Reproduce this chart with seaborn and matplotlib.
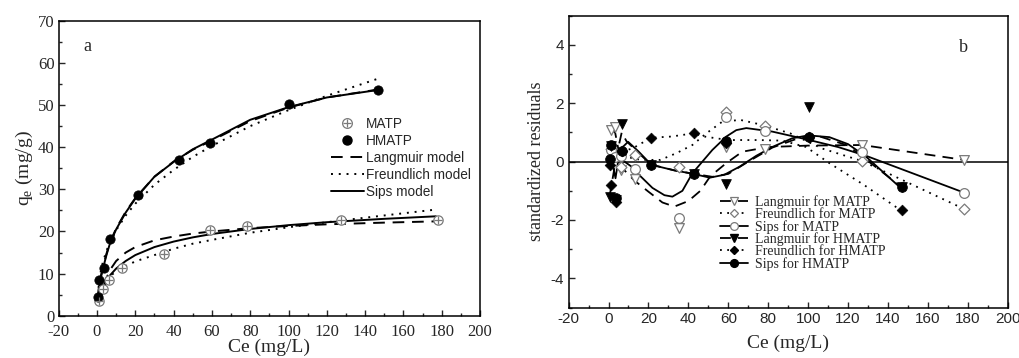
import matplotlib
matplotlib.use("Agg")
import matplotlib.pyplot as plt
from matplotlib.lines import Line2D
from matplotlib.ticker import MultipleLocator
import seaborn as sns

sns.set_style("ticks")
plt.rcParams["font.family"] = ["Liberation Serif", "DejaVu Serif"]
plt.rcParams["axes.unicode_minus"] = False

# ---- panel a: isotherm points ----
ce_matp = [1.0, 3.3, 6.3, 13.2, 35.2, 58.8, 78.4, 127.2, 178.0]
qe_matp = [3.4, 6.3, 8.6, 11.4, 14.6, 20.3, 21.4, 22.7, 22.7]
ce_hmatp = [0.5, 1.2, 3.7, 6.6, 21.3, 42.9, 58.8, 100.2, 146.9]
qe_hmatp = [4.4, 8.5, 11.4, 18.1, 28.6, 37.0, 41.1, 50.2, 53.5]

# model curves
fit_ce_matp = [1.5, 2, 3, 5, 7, 10, 15, 20, 30, 40, 50, 60, 80, 100, 120, 150, 177]
langmuir_matp = [2.6, 4.2, 6.2, 9.0, 11.0, 13.0, 15.0, 16.3, 17.9, 18.8, 19.5, 20.0, 20.8, 21.3, 21.7, 22.1, 22.4]
freundlich_matp = [3.2, 4.6, 6.4, 8.4, 9.5, 10.5, 11.8, 12.9, 14.4, 15.9, 17.1, 18.0, 19.7, 21.0, 22.2, 23.8, 25.2]
sips_matp = [2.8, 4.3, 6.2, 8.3, 9.7, 11.2, 13.0, 14.4, 16.3, 17.6, 18.6, 19.4, 20.6, 21.5, 22.2, 23.0, 23.6]

fit_ce_hmatp = [0.5, 1, 2, 3, 5, 7, 10, 15, 20, 30, 40, 50, 60, 80, 100, 120, 147]
langmuir_hmatp = [4.3, 6.8, 9.4, 11.4, 14.8, 17.7, 20.7, 24.7, 27.9, 33.0, 36.6, 39.4, 41.6, 46.2, 49.4, 51.8, 53.7]
freundlich_hmatp = [4.8, 7.6, 10.6, 12.6, 15.5, 17.5, 20.3, 23.8, 26.6, 31.1, 34.6, 37.7, 40.3, 45.0, 48.8, 52.2, 56.3]
sips_hmatp = [4.0, 6.5, 9.0, 11.0, 14.5, 17.5, 20.5, 24.5, 27.8, 33.0, 36.5, 39.5, 41.8, 46.5, 49.5, 51.8, 53.6]

# ---- panel b: standardized residuals ----
res_ce_matp = [1.0, 3.3, 6.3, 13.2, 35.2, 58.8, 78.4, 127.2, 178.0]
res_lang_matp = [1.1, 1.2, -0.3, -0.6, -2.28, 0.51, 0.45, 0.57, 0.06]
res_freu_matp = [0.45, 0.2, -0.2, 0.23, -0.19, 1.71, 1.22, 0.02, -1.62]
res_sips_matp = [0.4, 0.15, 0.2, -0.26, -1.94, 1.54, 1.06, 0.34, -1.06]

res_ce_hmatp = [0.5, 1.2, 3.7, 6.6, 21.3, 42.9, 58.8, 100.2, 146.9]
res_lang_hmatp = [-1.2, 0.55, -1.3, 1.3, -0.1, -0.42, -0.76, 1.86, -0.88]
res_freu_hmatp = [-0.1, -0.8, -1.4, 0.35, 0.82, 0.97, 0.65, 0.84, -1.65]
res_sips_hmatp = [0.1, 0.57, -1.25, 0.38, -0.11, -0.42, 0.72, 0.84, -0.88]

# smoothed connecting curves (as drawn in the figure)
sm_lang_matp_x = [1, 3.3, 5, 8, 13, 20, 27, 33, 40, 46, 51, 59, 67, 80, 100, 127, 178]
sm_lang_matp_y = [1.1, 1.0, 0.4, -0.3, -0.65, -1.03, -1.4, -1.54, -1.35, -1.0, -0.5, -0.05, 0.34, 0.5, 0.55, 0.57, 0.06]
sm_freu_matp_x = [1, 5, 10, 16, 26, 34, 42, 49, 57, 66, 77, 91, 107, 127, 178]
sm_freu_matp_y = [0.45, 0.3, 0.15, 0.06, 0.06, 0.29, 0.57, 0.97, 1.37, 1.43, 1.26, 0.97, 0.45, 0.02, -1.62]
sm_sips_matp_x = [1, 4, 8, 11.5, 16, 22, 28, 32, 37, 42, 47, 52, 59, 64, 69, 82, 100, 115, 129, 178]
sm_sips_matp_y = [0.4, 0.2, 0.0, -0.17, -0.5, -0.9, -1.15, -1.2, -1.0, -0.4, 0.0, 0.4, 0.86, 1.08, 1.15, 1.03, 0.75, 0.5, 0.2, -1.06]
sm_lang_hmatp_x = [0.5, 2, 4, 6.6, 9, 15, 21.3, 33, 42.9, 52, 60, 70, 82, 95, 105, 120, 147]
sm_lang_hmatp_y = [-1.2, -0.6, 0.2, 1.0, 0.7, 0.3, -0.1, -0.3, -0.42, -0.52, -0.42, 0.0, 0.48, 0.8, 0.88, 0.55, -0.88]
sm_freu_hmatp_x = [6.6, 12, 16.5, 21.5, 31.5, 42.6, 48, 60, 75, 87, 99, 110.6, 128, 146]
sm_freu_hmatp_y = [0.35, 0.45, 0.63, 0.82, 0.86, 0.97, 0.86, 0.74, 0.74, 0.72, 0.5, -0.05, -0.8, -1.65]
sm_sips_hmatp_x = [0, 1.5, 3.5, 5, 6.5, 9.8, 15, 21.5, 33, 42.6, 50.7, 58, 65.7, 74, 82.3, 92, 100, 110.6, 120, 129, 146]
sm_sips_hmatp_y = [0.57, 0.1, -0.57, 0.1, 0.46, 0.68, 0.35, -0.11, -0.3, -0.42, -0.55, -0.45, -0.17, 0.2, 0.51, 0.8, 0.9, 0.84, 0.6, 0.17, -0.88]

DASH = (0, (6, 4))
DOT = (0, (1, 3))
GREY = "#7a7a7a"

fig = plt.figure(figsize=(10.19, 3.58), dpi=100)
ax1 = fig.add_axes([0.0576, 0.118, 0.4135, 0.824])
ax2 = fig.add_axes([0.558, 0.141, 0.431, 0.815])


def curve(ax, x, y, ls, lw=1.3):
    sns.lineplot(x=x, y=y, ax=ax, color="black", linestyle=ls, lw=lw,
                 sort=False, estimator=None)


# panel a
for xs, ys, ls in [(fit_ce_matp, langmuir_matp, DASH), (fit_ce_matp, freundlich_matp, DOT),
                   (fit_ce_matp, sips_matp, "-"), (fit_ce_hmatp, langmuir_hmatp, DASH),
                   (fit_ce_hmatp, freundlich_hmatp, DOT), (fit_ce_hmatp, sips_hmatp, "-")]:
    curve(ax1, xs, ys, ls, lw=1.4)
sns.scatterplot(x=ce_matp, y=qe_matp, ax=ax1, marker="o", s=45, facecolor="white",
                edgecolor=GREY, linewidth=0.9, zorder=3)
sns.scatterplot(x=ce_matp, y=qe_matp, ax=ax1, marker="+", s=30, color=GREY,
                linewidth=0.9, zorder=4)
sns.scatterplot(x=ce_hmatp, y=qe_hmatp, ax=ax1, marker="o", s=45, color="black",
                edgecolor="black", zorder=3)

ax1.set_xlim(-20, 200)
ax1.set_ylim(0, 70)
ax1.xaxis.set_major_locator(MultipleLocator(20))
ax1.xaxis.set_minor_locator(MultipleLocator(10))
ax1.yaxis.set_major_locator(MultipleLocator(10))
ax1.yaxis.set_minor_locator(MultipleLocator(5))
ax1.set_xlabel("Ce (mg/L)", fontsize=14, labelpad=-1)
ax1.set_ylabel("q$_\\mathregular{e}$ (mg/g)", fontsize=14, labelpad=2)
ax1.text(-5, 64, "a", fontsize=13, ha="center", va="center")

h_matp = (Line2D([], [], ls="none", marker="o", ms=7, mfc="white", mec=GREY, mew=0.9),
          Line2D([], [], ls="none", marker="+", ms=5.5, color=GREY, mew=0.9))
h_hmatp = Line2D([], [], ls="none", marker="o", ms=6.5, color="black")
h_l = Line2D([], [], color="black", ls=DASH, lw=1.4)
h_f = Line2D([], [], color="black", ls=DOT, lw=1.4)
h_s = Line2D([], [], color="black", ls="-", lw=1.4)
ax1.legend([h_matp, h_hmatp, h_l, h_f, h_s],
           ["MATP", "HMATP", "Langmuir model", "Freundlich model", "Sips model"],
           loc="upper left", bbox_to_anchor=(0.646, 0.675), frameon=False,
           prop={"family": "Liberation Sans", "size": 9.8}, handlelength=2.4,
           handletextpad=0.15, labelspacing=0.22, borderpad=0, borderaxespad=0)

# panel b
ax2.axhline(0, color="black", lw=1.1, zorder=1)
specs = [
    (sm_lang_matp_x, sm_lang_matp_y, res_ce_matp, res_lang_matp, DASH, "v", False, 7),
    (sm_freu_matp_x, sm_freu_matp_y, res_ce_matp, res_freu_matp, DOT, "D", False, 5.5),
    (sm_sips_matp_x, sm_sips_matp_y, res_ce_matp, res_sips_matp, "-", "o", False, 7),
    (sm_lang_hmatp_x, sm_lang_hmatp_y, res_ce_hmatp, res_lang_hmatp, DASH, "v", True, 7),
    (sm_freu_hmatp_x, sm_freu_hmatp_y, res_ce_hmatp, res_freu_hmatp, DOT, "D", True, 5.5),
    (sm_sips_hmatp_x, sm_sips_hmatp_y, res_ce_hmatp, res_sips_hmatp, "-", "o", True, 7),
]
labels_b = ["Langmuir for MATP", "Freundlich for MATP", "Sips for MATP",
            "Langmuir for HMATP", "Freundlich for HMATP", "Sips for HMATP"]
handles_b = []
for sx, sy, px, py, ls, mk, filled, ms in specs:
    curve(ax2, sx, sy, ls, lw=1.3)
    if filled:
        sns.scatterplot(x=px, y=py, ax=ax2, marker=mk, s=ms ** 2, color="black",
                        edgecolor="black", zorder=3)
        handles_b.append(Line2D([], [], color="black", ls=ls, lw=1.3, marker=mk,
                                ms=ms * 0.8, mfc="black", mec="black"))
    else:
        sns.scatterplot(x=px, y=py, ax=ax2, marker=mk, s=ms ** 2, facecolor="white",
                        edgecolor=GREY, linewidth=0.9, zorder=3)
        handles_b.append(Line2D([], [], color="black", ls=ls, lw=1.3, marker=mk,
                                ms=ms * 0.8, mfc="white", mec=GREY, mew=0.9))

ax2.set_xlim(-20, 200)
ax2.set_ylim(-5, 5)
ax2.xaxis.set_major_locator(MultipleLocator(20))
ax2.xaxis.set_minor_locator(MultipleLocator(10))
ax2.set_yticks([-4, -2, 0, 2, 4])
ax2.yaxis.set_minor_locator(MultipleLocator(1))
ax2.set_xlabel("Ce (mg/L)", fontsize=14, labelpad=6)
ax2.set_ylabel("standardized residuals", fontsize=13, labelpad=4)
ax2.text(178, 3.9, "b", fontsize=13, ha="center", va="center")
ax2.legend(handles_b, labels_b, loc="upper left", bbox_to_anchor=(0.345, 0.385),
           frameon=False, prop={"family": "Liberation Serif", "size": 10},
           handlelength=2.0, handletextpad=0.5, labelspacing=-0.08,
           borderpad=0, borderaxespad=0)

for ax in (ax1, ax2):
    ax.tick_params(which="both", direction="in", top=False, right=False)
    ax.tick_params(which="major", length=4, width=1)
    ax.tick_params(which="minor", length=2, width=1)
    for sp in ax.spines.values():
        sp.set_visible(True)
        sp.set_linewidth(1.1)
        sp.set_color("black")
    ax.set_facecolor("white")

ax1.tick_params(axis="x", labelsize=12, pad=6)
ax1.tick_params(axis="y", labelsize=12, pad=3)
ax2.tick_params(labelsize=11)
for lab in ax2.get_xticklabels() + ax2.get_yticklabels():
    lab.set_fontfamily("Liberation Sans")

fig.savefig("out.png", dpi=100, facecolor="white")
